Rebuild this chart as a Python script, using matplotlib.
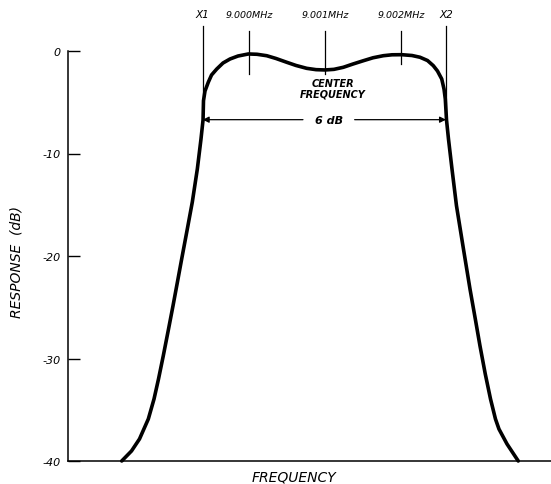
import matplotlib

matplotlib.use("Agg")

import matplotlib.pyplot as plt

# frequency offset from 9.000 MHz in kHz, response in dB
freq_khz = [
    -1.675, -1.546, -1.441, -1.325, -1.25, -1.191, -1.128, -1.059, -1.0,
    -0.942, -0.886, -0.812, -0.746, -0.68, -0.632, -0.605, -0.599, -0.579,
    -0.536, -0.493, -0.425, -0.342, -0.25, -0.145, -0.009, 0.105, 0.233,
    0.355, 0.496, 0.618, 0.759, 0.882, 1.0, 1.118, 1.241, 1.368, 1.504,
    1.632, 1.767, 1.882, 2.009, 2.145, 2.25, 2.349, 2.425, 2.48, 2.536,
    2.566, 2.583, 2.599, 2.625, 2.671, 2.73, 2.822, 2.908, 2.978, 3.039,
    3.109, 3.178, 3.243, 3.289, 3.395, 3.543,
]
response_db = [
    -40.0, -39.02, -37.85, -35.9, -33.95, -32.0, -29.73, -27.12, -24.85,
    -22.54, -20.29, -17.37, -14.73, -11.51, -8.59, -6.73, -4.85, -3.9,
    -3.05, -2.34, -1.76, -1.17, -0.78, -0.49, -0.29, -0.32, -0.46,
    -0.73, -1.1, -1.41, -1.69, -1.82, -1.85, -1.79, -1.59, -1.27, -0.95,
    -0.66, -0.46, -0.37, -0.36, -0.44, -0.61, -0.93, -1.43, -1.95, -2.73,
    -3.71, -4.68, -6.73, -8.59, -11.51, -15.09, -19.32, -23.22, -26.15, -28.75,
    -31.51, -33.95, -35.9, -36.88, -38.34, -40.0,
]

marker_freqs = [0.0, 1.0, 2.0]
marker_labels = ["9.000MHz", "9.001MHz", "9.002MHz"]
marker_bottoms = [-2.24, -2.2, -1.27]
edge_freqs = [-0.609, 2.592]
edge_labels = ["X1", "X2"]
yticks = [0, -10, -20, -30, -40]
ytick_labels = ["0", "-10", "-20", "-30", "-40"]
six_db_level = -6.7

fig = plt.figure(figsize=(5.51, 4.85), dpi=100)
ax = fig.add_axes([68 / 551, 23 / 485, 483 / 551, 410 / 485])
ax.set_xlim(-2.382, 3.974)
ax.set_ylim(-40, 0)

ax.plot(freq_khz, response_db, color="black", linewidth=2.6, clip_on=False,
        solid_capstyle="round", solid_joinstyle="round")

ax.spines["top"].set_visible(False)
ax.spines["right"].set_visible(False)
ax.spines["left"].set_linewidth(1.1)
ax.spines["bottom"].set_linewidth(1.1)
ax.set_xticks([])
ax.set_yticks(yticks)
ax.set_yticklabels(ytick_labels, fontstyle="italic", fontsize=8)
ax.tick_params(axis="y", direction="in", length=8.5, width=1.0, pad=5)

text_style = dict(fontstyle="italic", color="black")

# frequency markers above the passband
for f, label, bottom in zip(marker_freqs, marker_labels, marker_bottoms):
    ax.plot([f, f], [1.95, bottom], color="black", linewidth=0.9, clip_on=False)
    ax.text(f, 3.6, label, ha="center", va="center", fontsize=6.8, **text_style)

for f, label in zip(edge_freqs, edge_labels):
    ax.plot([f, f], [2.44, six_db_level], color="black", linewidth=0.9, clip_on=False)
    ax.text(f, 3.6, label, ha="center", va="center", fontsize=7.5, **text_style)

ax.text(1.1, -3.65, "CENTER\nFREQUENCY", ha="center", va="center", fontsize=7,
        fontweight="bold", linespacing=1.05, **text_style)

# 6 dB bandwidth arrow
ax.text(1.05, six_db_level, "6 dB", ha="center", va="center", fontsize=8,
        fontweight="bold", **text_style)
arrow = dict(arrowstyle="-|>", color="black", linewidth=0.9, mutation_scale=9)
ax.annotate("", xy=(edge_freqs[0], six_db_level), xytext=(0.71, six_db_level),
            arrowprops=dict(arrow, shrinkA=0, shrinkB=0))
ax.annotate("", xy=(edge_freqs[1], six_db_level), xytext=(1.39, six_db_level),
            arrowprops=dict(arrow, shrinkA=0, shrinkB=0))

ax.text(-0.1056, 0.488, "RESPONSE  (dB)", transform=ax.transAxes, rotation=90,
        ha="center", va="center", fontsize=10, **text_style)
ax.text(0.468, -0.039, "FREQUENCY", transform=ax.transAxes,
        ha="center", va="center", fontsize=10, **text_style)

fig.savefig("out.png", dpi=100)
plt.close(fig)
